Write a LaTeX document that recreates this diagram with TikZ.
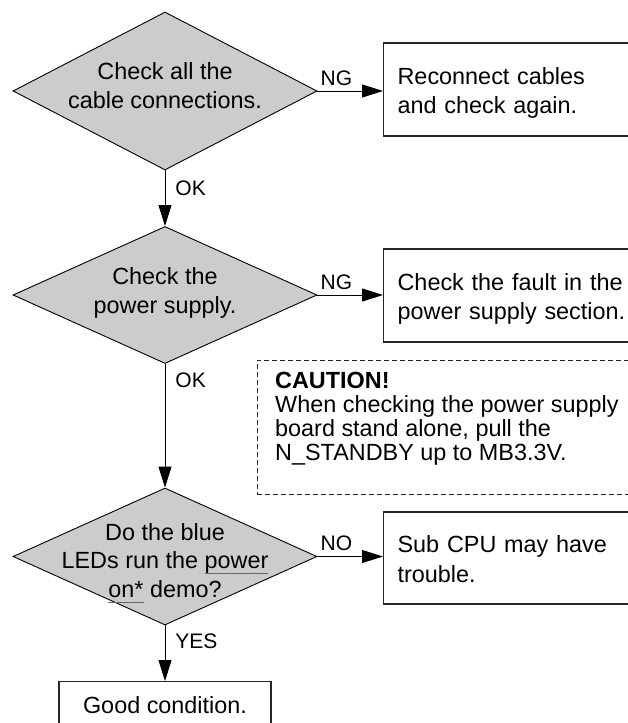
\documentclass[tikz,border=0pt]{standalone}
\usepackage{fontspec}
\setmainfont{Liberation Sans}
\usetikzlibrary{shapes.geometric,arrows.meta,calc}
\definecolor{decfill}{HTML}{CCCCCC}
\newcommand\myul[1]{\setbox0=\hbox{#1}\rlap{\color{black!60}\rule[-5.5pt]{\wd0}{1.3pt}}\box0\relax}
\begin{document}
\begin{tikzpicture}[x=1pt,y=-1pt,
  dec/.style={diamond, draw=black, line width=0.9pt, fill=decfill, inner sep=0pt, minimum width=304pt},
  dtext/.style={inner sep=0pt, align=center, font=\fontsize{23.4}{28.5}\selectfont},
  box/.style={rectangle, draw=black!85, line width=1.2pt, anchor=west, minimum width=277pt,
    text width=249pt, inner xsep=14pt, inner ysep=0pt, align=left, text height=17pt, text depth=27.5pt,
    font=\fontsize{23.4}{29.5}\selectfont},
  goodbox/.style={rectangle, draw=black!85, line width=1.2pt, anchor=north, minimum width=212pt,
    minimum height=46pt, text depth=0pt, font=\fontsize{23.4}{29}\selectfont},
  caut/.style={rectangle, draw=black!85, line width=0.9pt, dash pattern=on 5pt off 3pt, anchor=north west,
    minimum width=403pt, minimum height=134pt, inner sep=0pt},
  ctext/.style={inner sep=0pt, align=left, anchor=north west, font=\fontsize{23.4}{24}\selectfont},
  arr/.style={draw=black, line width=0.9pt, -{Triangle[length=21pt,width=13pt]}},
  lbl/.style={inner sep=0pt, font=\fontsize{21}{25}\selectfont}
]
\useasboundingbox (0,0) rectangle (628,723);
\clip (0,0) rectangle (628,723);

% decisions
\node[dec, minimum height=158pt] (d1) at (165,91) {};
\node[dtext] (t1) at ([yshift=5.5pt]d1.center) {Check all the\\cable connections.};
\node[dec, minimum height=137pt] (d2) at (165,295) {};
\node[dtext] (t2) at ([yshift=2pt]d2.center) {Check the\\power supply.};
\node[dec, minimum height=137pt] (d3) at (165,556.5) {};
\node[dtext] (t3) at ([yshift=-6.75pt]d3.center) {Do the blue\\LEDs run the \myul{power}\\\myul{on*} demo?};

% result boxes
\node[box, minimum height=93pt] (b1) at (383,89.5) {Reconnect cables\\and check again.};
\node[box, minimum height=93pt] (b2) at (383,295.5) {Check the fault in the\\power supply section.};
\node[box, minimum height=92pt] (b3) at (383,558) {Sub CPU may have\\trouble.};
\node[goodbox] (good) at (165,681) {Good condition.};

% caution
\node[caut] (cbox) at (257,360) {};
\node[ctext] (ctxt) at ([xshift=18pt,yshift=-12pt]cbox.north west)
  {\textbf{CAUTION!}\\When checking the power supply\\board stand alone, pull the\\N\_STANDBY up to MB3.3V.};

% connectors
\draw[arr] (d1.south) -- (d2.north) node[lbl, pos=0.32, right=10pt] {OK};
\draw[arr] (d2.south) -- (d3.north) node[lbl, pos=0.13, right=10pt] {OK};
\draw[arr] (d3.south) -- (good.north) node[lbl, pos=0.29, right=10pt] {YES};
\draw[arr] (d1.east) -- (d1.east -| b1.west) node[lbl, pos=0.29, above=5pt] {NG};
\draw[arr] (d2.east) -- (d2.east -| b2.west) node[lbl, pos=0.29, above=5pt] {NG};
\draw[arr] (d3.east) -- (d3.east -| b3.west) node[lbl, pos=0.29, above=5pt] {NO};
\end{tikzpicture}
\end{document}
